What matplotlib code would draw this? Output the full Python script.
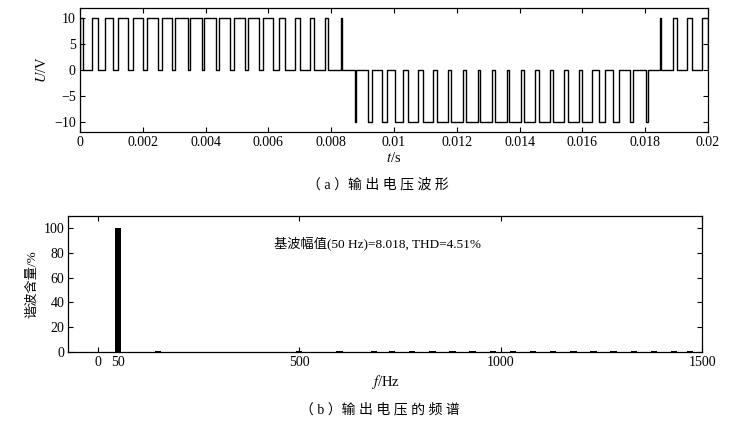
## Output voltage waveform and spectrum
import matplotlib.pyplot as plt
import numpy as np

plt.rcParams['font.family'] = ['Liberation Serif', 'Noto Sans CJK SC']
plt.rcParams['mathtext.fontset'] = 'stix'

###################
# waveform: +10 V pulses (ms)
pos_on = [0.0, 0.373, 0.796, 1.220, 1.682, 2.134, 2.596, 3.041, 3.503, 3.965,
          4.427, 4.904, 5.366, 5.844, 6.354, 6.847, 7.325, 7.803, 8.322,
          18.487, 18.895, 19.341, 19.799]
pos_off = [0.083, 0.583, 1.061, 1.535, 2.010, 2.484, 2.946, 3.424, 3.879, 4.338,
           4.793, 5.255, 5.701, 6.146, 6.545, 7.022, 7.468, 7.885, 8.347,
           18.513, 19.022, 19.481, 20.0]
# -10 V pulses (ms)
neg_on = [8.758, 9.182, 9.618, 10.032, 10.462, 10.924, 11.376, 11.831, 12.287,
          12.745, 13.207, 13.672, 14.137, 14.605, 15.076, 15.535, 16.003,
          16.545, 16.984, 17.516, 18.035]
neg_off = [8.806, 9.309, 9.793, 10.296, 10.764, 11.242, 11.726, 12.197, 12.662,
           13.127, 13.589, 14.048, 14.506, 14.962, 15.414, 15.879, 16.306,
           16.720, 17.175, 17.621, 18.083]

# spectrum
harm_f = [50, 150, 500, 600, 685, 730, 780, 830, 880, 930, 980, 1030, 1080,
          1130, 1180, 1230, 1280, 1330, 1380, 1430, 1470]
harm_pct = [100, 0.8, 0.8, 0.8, 0.9, 0.9, 0.9, 0.9, 0.9, 0.9, 0.9, 0.9, 0.9,
            0.9, 0.9, 0.9, 0.9, 0.9, 0.9, 0.9, 0.9]

note = '基波幅值(50 Hz)=8.018, THD=4.51%'

# build step waveform
edges = []
for a, b in zip(pos_on, pos_off):
    edges += [(a, 10), (b, 0)]
for a, b in zip(neg_on, neg_off):
    edges += [(a, -10), (b, 0)]
edges.sort()
t = [0.0]
u = [0.0]
for ti, ui in edges:
    t += [ti, ti]
    u += [u[-1], ui]
t = np.array(t) / 1000.0

fig = plt.figure(figsize=(7.4, 4.37), dpi=100)

def style(ax):
    ax.tick_params(direction='in', top=True, right=True, length=3.5,
                   width=0.8, labelsize=10, pad=3)
    for s in ax.spines.values():
        s.set_linewidth(0.9)

# (a) waveform
ax1 = fig.add_axes([0.1081, 0.6973, 0.8486, 0.2851])
ax1.plot(t, u, color='k', lw=1.0)
ax1.set_xlim(0, 0.02)
ax1.set_ylim(-12, 12)
ax1.set_xticks([0, 0.002, 0.004, 0.006, 0.008, 0.01, 0.012, 0.014, 0.016, 0.018, 0.02])
ax1.set_xticklabels(['0', '0.002', '0.004', '0.006', '0.008', '0.01', '0.012',
                     '0.014', '0.016', '0.018', '0.02'])
ax1.set_yticks([-10, -5, 0, 5, 10])
style(ax1)
ax1.set_xlabel(r'$t$/s', fontsize=10.5, labelpad=1)
ax1.set_ylabel(r'$U$/V', fontsize=10.5, labelpad=4)

# (b) spectrum
ax2 = fig.add_axes([0.0923, 0.1952, 0.8568, 0.3112])
ax2.bar(harm_f, harm_pct, width=16, color='k')
ax2.set_xlim(-73, 1500)
ax2.set_ylim(0, 110)
ax2.set_xticks([0, 50, 500, 1000, 1500])
ax2.set_yticks([0, 20, 40, 60, 80, 100])
style(ax2)
tk = ax2.xaxis.get_major_ticks()[1]
tk.tick1line.set_visible(False)
tk.tick2line.set_visible(False)
ax2.text(695, 88, note, fontsize=9.5, ha='center', va='center')
ax2.set_xlabel(r'$f$/Hz', fontsize=10.5, labelpad=3)
ax2.set_ylabel('谐波含量/%', fontsize=9.5, labelpad=4)

fig.text(0.51, 0.577, '（ a ）输 出 电 压 波 形', fontsize=10, ha='center', va='center')
fig.text(0.513, 0.062, '（ b ）输 出 电 压 的 频 谱', fontsize=10, ha='center', va='center')

fig.savefig('out.png', dpi=100)
